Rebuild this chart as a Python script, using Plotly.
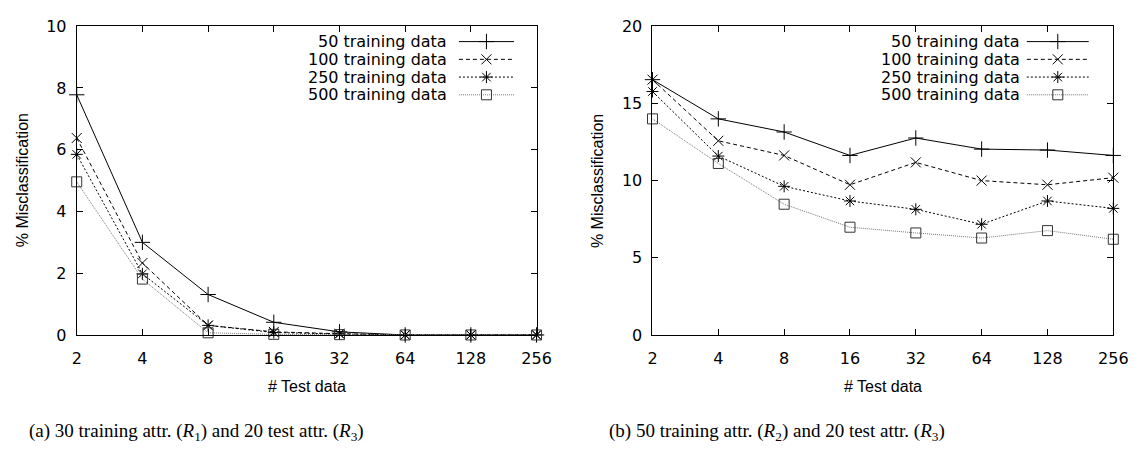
import math
import plotly.graph_objects as go

# ---------------- data ----------------
test_sizes = [2, 4, 8, 16, 32, 64, 128, 256]
series_names = ["50 training data", "100 training data", "250 training data", "500 training data"]

a_50 = [7.78, 3.0, 1.31, 0.41, 0.10, 0.0, 0.0, 0.0]
a_100 = [6.38, 2.33, 0.31, 0.10, 0.04, 0.0, 0.0, 0.0]
a_250 = [5.85, 1.98, 0.31, 0.08, 0.03, 0.0, 0.0, 0.0]
a_500 = [4.96, 1.81, 0.07, 0.02, 0.01, 0.0, 0.0, 0.0]

b_50 = [16.54, 14.0, 13.15, 11.63, 12.76, 12.04, 11.98, 11.63]
b_100 = [16.54, 12.58, 11.63, 9.73, 11.18, 10.0, 9.73, 10.19]
b_250 = [15.77, 11.59, 9.63, 8.68, 8.14, 7.17, 8.68, 8.20]
b_500 = [14.0, 11.11, 8.47, 6.98, 6.61, 6.28, 6.76, 6.20]

a_yticks = [0, 2, 4, 6, 8, 10]
b_yticks = [0, 5, 10, 15, 20]
x_tick_labels = ["2", "4", "8", "16", "32", "64", "128", "256"]

caption_a = "(a) 30 training attr. (<i>R</i><sub>1</sub>) and 20 test attr. (<i>R</i><sub>3</sub>)"
caption_b = "(b) 50 training attr. (<i>R</i><sub>2</sub>) and 20 test attr. (<i>R</i><sub>3</sub>)"
x_title = "# Test data"
y_title = "% Misclassification"

# ---------------- styles ----------------
W, H = 1145, 460
styles = [
    dict(color="black", dash="solid", symbol="cross-thin-open", size=11, mcolor="black"),
    dict(color="black", dash="4px,3px", symbol="x-thin-open", size=10, mcolor="black"),
    dict(color="black", dash="2px,2px", symbol="asterisk-open", size=10, mcolor="black"),
    dict(color="#777777", dash="1px,1px", symbol="square-open", size=10, mcolor="#333333"),
]

fig = go.Figure()

def add_panel(xa, ya, ys):
    for name, y, st in zip(series_names, ys, styles):
        fig.add_trace(go.Scatter(
            x=test_sizes, y=y, mode="lines+markers", name=name,
            xaxis=xa, yaxis=ya, showlegend=False, cliponaxis=False,
            line=dict(color=st["color"], dash=st["dash"], width=1),
            marker=dict(symbol=st["symbol"], size=st["size"], color=st["mcolor"],
                        line=dict(width=1, color=st["mcolor"])),
        ))

add_panel("x", "y", [a_50, a_100, a_250, a_500])
add_panel("x2", "y2", [b_50, b_100, b_250, b_500])

# legend samples (text, then line with marker), gnuplot style
legend_rows = [34, 52.5, 71, 89.5]
legend_specs = [
    dict(text_right=452, x0=462, x1=518),
    dict(text_right=1035, x0=1040, x1=1103),
]
for spec in legend_specs:
    for name, ry, st in zip(series_names, legend_rows, styles):
        xm = (spec["x0"] + spec["x1"]) / 2
        fig.add_trace(go.Scatter(
            x=[spec["x0"], spec["x1"]], y=[ry, ry], mode="lines",
            xaxis="x3", yaxis="y3", showlegend=False, hoverinfo="skip",
            line=dict(color=st["color"], dash=st["dash"], width=1),
        ))
        fig.add_trace(go.Scatter(
            x=[xm], y=[ry], mode="markers",
            xaxis="x3", yaxis="y3", showlegend=False, hoverinfo="skip", cliponaxis=False,
            marker=dict(symbol=st["symbol"], size=st["size"], color=st["mcolor"],
                        line=dict(width=1, color=st["mcolor"])),
        ))
        fig.add_annotation(
            x=spec["text_right"] / W, y=1 - ry / H, xref="paper", yref="paper",
            text=name, showarrow=False, xanchor="right", yanchor="middle",
            font=dict(family="DejaVu Sans", size=16, color="black"),
        )

tick_font = dict(family="DejaVu Sans", size=16, color="black")
eps = 1e-6
common_x = dict(
    type="log", range=[math.log10(test_sizes[0]) - eps, math.log10(test_sizes[-1]) + eps],
    tickvals=test_sizes, ticktext=x_tick_labels,
    showline=True, linecolor="black", linewidth=1, mirror="ticks", ticks="inside",
    ticklen=6, tickcolor="black", showgrid=False, zeroline=False, tickfont=tick_font,
    ticklabelstandoff=9,
)
common_y = dict(
    showline=True, linecolor="black", linewidth=1, mirror="ticks", ticks="inside",
    ticklen=6, tickcolor="black", showgrid=False, zeroline=False, tickfont=tick_font,
    ticklabelstandoff=6,
)

y0 = (H - 340) / H
y1 = (H - 18) / H
fig.update_layout(
    width=W, height=H, margin=dict(l=0, r=0, t=0, b=0),
    paper_bgcolor="white", plot_bgcolor="rgba(0,0,0,0)",
    xaxis=dict(domain=[73 / W, 541 / W], anchor="y", **common_x),
    yaxis=dict(domain=[y0, y1], anchor="x", range=[0, 10], tickvals=a_yticks, **common_y),
    xaxis2=dict(domain=[659 / W, 1128 / W], anchor="y2", **common_x),
    yaxis2=dict(domain=[y0, y1], anchor="x2", range=[0, 20], tickvals=b_yticks, **common_y),
    xaxis3=dict(domain=[0, 1], range=[0, W], visible=False, anchor="y3", fixedrange=True),
    yaxis3=dict(domain=[0, 1], range=[H, 0], visible=False, anchor="x3", fixedrange=True),
)

title_font = dict(family="Liberation Sans", size=16, color="black")
for cx in [(73 + 541) / 2, (659 + 1128) / 2]:
    fig.add_annotation(x=cx / W, y=1 - 394 / H, xref="paper", yref="paper", text=x_title,
                       showarrow=False, xanchor="center", yanchor="middle", font=title_font)
for cx in [18, 603]:
    fig.add_annotation(x=cx / W, y=1 - 179 / H, xref="paper", yref="paper", text=y_title,
                       showarrow=False, textangle=-90, xanchor="center", yanchor="middle",
                       font=title_font)

cap_font = dict(family="Liberation Serif", size=19, color="black")
fig.add_annotation(x=195 / W, y=1 - 441 / H, xref="paper", yref="paper", text=caption_a,
                   showarrow=False, xanchor="center", yanchor="middle", font=cap_font)
fig.add_annotation(x=786 / W, y=1 - 441 / H, xref="paper", yref="paper", text=caption_b,
                   showarrow=False, xanchor="center", yanchor="middle", font=cap_font)

fig.write_html("out.html")
